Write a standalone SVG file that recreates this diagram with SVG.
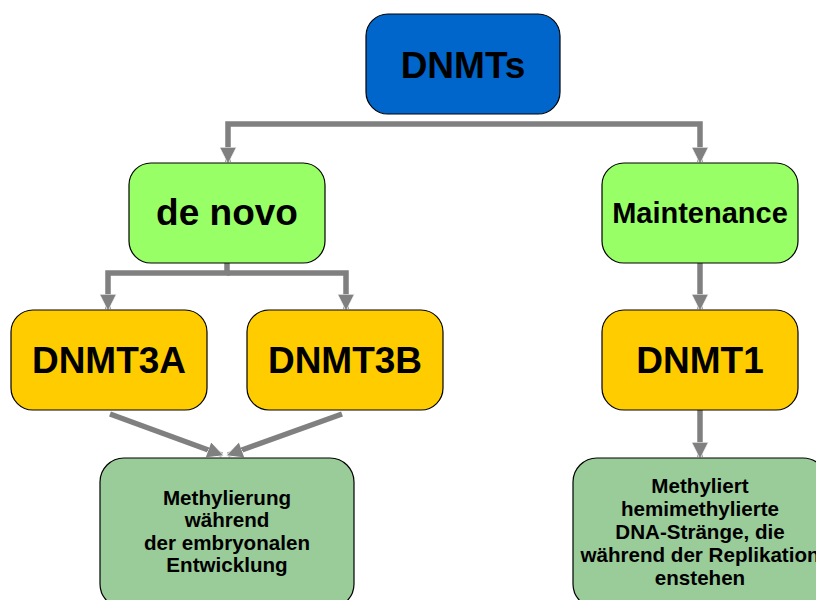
<svg xmlns="http://www.w3.org/2000/svg" width="816" height="600" viewBox="0 0 816 600">
  <style>
    .box { stroke: #000; stroke-width: 1.2; }
    .root { fill: #0066cc; }
    .type { fill: #99ff66; }
    .enzyme { fill: #ffcc00; }
    .role { fill: #99cc99; }
    text { font-family: "Liberation Sans", Arial, sans-serif; font-weight: bold; fill: #000; text-anchor: middle; }
    .big { font-size: 37px; }
    .mid { font-size: 29px; }
    .small { font-size: 20.6px; }
    .link { fill: none; stroke: #808080; stroke-width: 5.5; }
  </style>
  <defs>
    <marker id="head" viewBox="0 0 16 16" refX="14" refY="8" markerWidth="17" markerHeight="17" markerUnits="userSpaceOnUse" orient="auto">
      <path d="M0,0 L16,8 L0,16 Z" fill="#808080" stroke="#fff" stroke-width="0.8"/>
    </marker>
  </defs>

  <rect width="816" height="600" fill="#fff"/>

  <g id="connectors">
    <path class="link" d="M463,124 H228 V162" marker-end="url(#head)"/>
    <path class="link" d="M463,124 H700 V162" marker-end="url(#head)"/>
    <path class="link" d="M227,263 V273 H108 V309" marker-end="url(#head)"/>
    <path class="link" d="M227,273 H346 V309" marker-end="url(#head)"/>
    <path class="link" d="M700,263 V309" marker-end="url(#head)"/>
    <path class="link" d="M700,410 V457" marker-end="url(#head)"/>
    <path class="link" d="M110,414 L222,455" marker-end="url(#head)"/>
    <path class="link" d="M342,414 L228,455" marker-end="url(#head)"/>
  </g>

  <g id="dnmts">
    <rect class="box root" x="366" y="14" width="194" height="100" rx="22"/>
    <text class="big" x="463" y="78">DNMTs</text>
  </g>

  <g id="de-novo">
    <rect class="box type" x="129" y="163" width="196" height="100" rx="22"/>
    <text class="big" x="227" y="225">de novo</text>
  </g>

  <g id="maintenance">
    <rect class="box type" x="602" y="163" width="196" height="100" rx="22"/>
    <text class="mid" x="700" y="223">Maintenance</text>
  </g>

  <g id="dnmt3a">
    <rect class="box enzyme" x="11" y="310" width="196" height="100" rx="22"/>
    <text class="big" x="109" y="373">DNMT3A</text>
  </g>

  <g id="dnmt3b">
    <rect class="box enzyme" x="247" y="310" width="196" height="100" rx="22"/>
    <text class="big" x="345" y="373">DNMT3B</text>
  </g>

  <g id="dnmt1">
    <rect class="box enzyme" x="602" y="310" width="196" height="100" rx="22"/>
    <text class="big" x="700" y="373">DNMT1</text>
  </g>

  <g id="embryonic">
    <rect class="box role" x="100" y="458" width="254" height="150" rx="24"/>
    <text class="small" x="227" y="505">Methylierung</text>
    <text class="small" x="227" y="527">während</text>
    <text class="small" x="227" y="550">der embryonalen</text>
    <text class="small" x="227" y="572">Entwicklung</text>
  </g>

  <g id="replication">
    <rect class="box role" x="573" y="458" width="254" height="150" rx="24"/>
    <text class="small" x="700" y="493">Methyliert</text>
    <text class="small" x="700" y="516">hemimethylierte</text>
    <text class="small" x="700" y="539">DNA-Stränge, die</text>
    <text class="small" x="700" y="562">während der Replikation</text>
    <text class="small" x="700" y="585">enstehen</text>
  </g>
</svg>
